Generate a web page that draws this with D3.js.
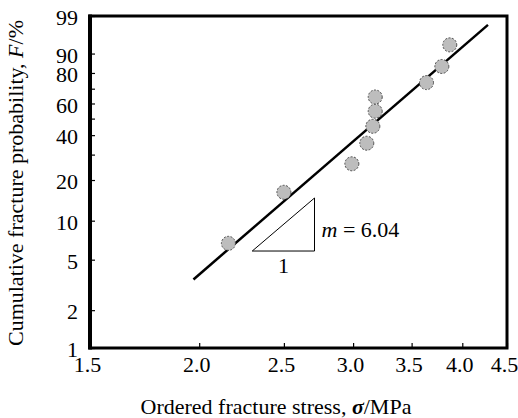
<!DOCTYPE html>
<html>
<head>
<meta charset="utf-8">
<script src="https://cdn.jsdelivr.net/npm/d3@7/dist/d3.min.js"></script>
<style>
  html, body { margin: 0; padding: 0; background: #fff; }
  svg text { font-family: "Liberation Serif", "Times New Roman", serif; fill: #000; }
</style>
</head>
<body>
<div id="chart"></div>
<script>
// ========= Data =========
const stress = [2.16, 2.50, 2.99, 3.11, 3.16, 3.18, 3.18, 3.64, 3.79, 3.87];
const probability = [6.7, 16.3, 26.0, 35.6, 45.2, 54.8, 64.4, 74.0, 83.7, 93.3];

// fitted Weibull line (end points) and slope triangle
const fitStress = [1.97, 4.28];
const fitProbability = [3.5, 98.0];
const triangleStress = [2.30, 2.71];
const triangleProbability = [5.84, 14.8];
const modulusLabel = '6.04';

const xTickValues = [1.5, 2.0, 2.5, 3.0, 3.5, 4.0, 4.5];
const yTickValues = [1, 2, 5, 10, 20, 30, 40, 50, 60, 70, 80, 90, 99];
const yTickLabels = [1, 2, 5, 10, 20, 40, 60, 80, 90, 99];

// ========= Layout =========
const width = 518, height = 418;
const plotLeft = 90, plotRight = 507, plotTop = 16, plotBottom = 348;
const fontSize = 22;

const svg = d3.select('#chart')
  .append('svg')
  .attr('width', width)
  .attr('height', height);

// ========= Scales =========
// x: log(stress); y: log(-ln(1 - F)) (Weibull probability paper)
const x = d3.scaleLog().domain([1.5, 4.5]).range([plotLeft, plotRight]);
const toW = f => -Math.log(1 - f / 100);
const yLog = d3.scaleLog().domain([toW(1), toW(99)]).range([plotBottom, plotTop]);
const y = f => yLog(toW(f));

// ========= Axes =========
const xAxis = d3.axisBottom(x)
  .tickValues(xTickValues)
  .tickFormat(d3.format('.1f'))
  .tickSizeInner(-5)
  .tickSizeOuter(0)
  .tickPadding(8);

svg.append('g')
  .attr('transform', `translate(0,${plotBottom})`)
  .call(xAxis)
  .call(g => g.select('.domain').remove())
  .call(g => g.selectAll('.tick line').attr('stroke', '#000').attr('stroke-width', 1.2))
  .call(g => g.selectAll('.tick text')
    .attr('dx', -3)
    .style('font-size', fontSize + 'px')
    .style('font-family', '"Liberation Serif", "Times New Roman", serif'));

const yAxis = d3.axisLeft(yLog)
  .tickValues(yTickValues.map(toW))
  .tickFormat((v, i) => yTickLabels.includes(yTickValues[i]) ? yTickValues[i] : '')
  .tickSizeInner(-5)
  .tickSizeOuter(0)
  .tickPadding(12);

svg.append('g')
  .attr('transform', `translate(${plotLeft},0)`)
  .call(yAxis)
  .call(g => g.select('.domain').remove())
  .call(g => g.selectAll('.tick line').attr('stroke', '#000').attr('stroke-width', 1.2))
  .call(g => g.selectAll('.tick text')
    .attr('dy', '0.4em')
    .style('font-size', fontSize + 'px')
    .style('font-family', '"Liberation Serif", "Times New Roman", serif'));

// ========= Frame =========
svg.append('rect')
  .attr('x', plotLeft)
  .attr('y', plotTop)
  .attr('width', plotRight - plotLeft)
  .attr('height', plotBottom - plotTop)
  .attr('fill', 'none')
  .attr('stroke', '#000')
  .attr('stroke-width', 3);

svg.append('line')
  .attr('x1', plotLeft).attr('x2', plotLeft)
  .attr('y1', plotTop - 1.5).attr('y2', plotBottom + 1.5)
  .attr('stroke', '#000')
  .attr('stroke-width', 4);

// ========= Fit line =========
const fitLine = d3.line()
  .x(d => x(d[0]))
  .y(d => y(d[1]));

svg.append('path')
  .datum(d3.zip(fitStress, fitProbability))
  .attr('d', fitLine)
  .attr('fill', 'none')
  .attr('stroke', '#000')
  .attr('stroke-width', 2.5);

// ========= Slope triangle =========
const tri = [
  [triangleStress[0], triangleProbability[0]],
  [triangleStress[1], triangleProbability[0]],
  [triangleStress[1], triangleProbability[1]]
];
svg.append('path')
  .datum(tri)
  .attr('d', d => fitLine(d) + 'Z')
  .attr('fill', 'none')
  .attr('stroke', '#000')
  .attr('stroke-width', 1);

const mText = svg.append('text')
  .attr('x', x(triangleStress[1]) + 7)
  .attr('y', y(triangleProbability[1]) + 39)
  .style('font-size', fontSize + 'px');
mText.append('tspan').style('font-style', 'italic').text('m');
mText.append('tspan').text(' = ' + modulusLabel);

svg.append('text')
  .attr('x', (x(triangleStress[0]) + x(triangleStress[1])) / 2)
  .attr('y', y(triangleProbability[0]) + 22)
  .attr('text-anchor', 'middle')
  .style('font-size', fontSize + 'px')
  .text('1');

// ========= Points =========
svg.append('g')
  .selectAll('circle')
  .data(d3.zip(stress, probability))
  .enter()
  .append('circle')
  .attr('cx', d => x(d[0]))
  .attr('cy', d => y(d[1]))
  .attr('r', 7)
  .attr('fill', '#bdbdbd')
  .attr('stroke', '#4a4a4a')
  .attr('stroke-width', 1)
  .attr('stroke-dasharray', '2,1.5');

// ========= Axis titles =========
const xTitle = svg.append('text')
  .attr('x', 276)
  .attr('y', 414)
  .attr('text-anchor', 'middle')
  .style('font-size', fontSize + 'px');
xTitle.append('tspan').text('Ordered fracture stress, ');
xTitle.append('tspan').style('font-style', 'italic').style('font-weight', 'bold').text('σ');
xTitle.append('tspan').text('/MPa');

const yTitle = svg.append('text')
  .attr('transform', 'translate(23,183) rotate(-90)')
  .attr('text-anchor', 'middle')
  .style('font-size', fontSize + 'px');
yTitle.append('tspan').text('Cumulative fracture probability, ');
yTitle.append('tspan').style('font-style', 'italic').text('F');
yTitle.append('tspan').text('/%');
</script>
</body>
</html>
